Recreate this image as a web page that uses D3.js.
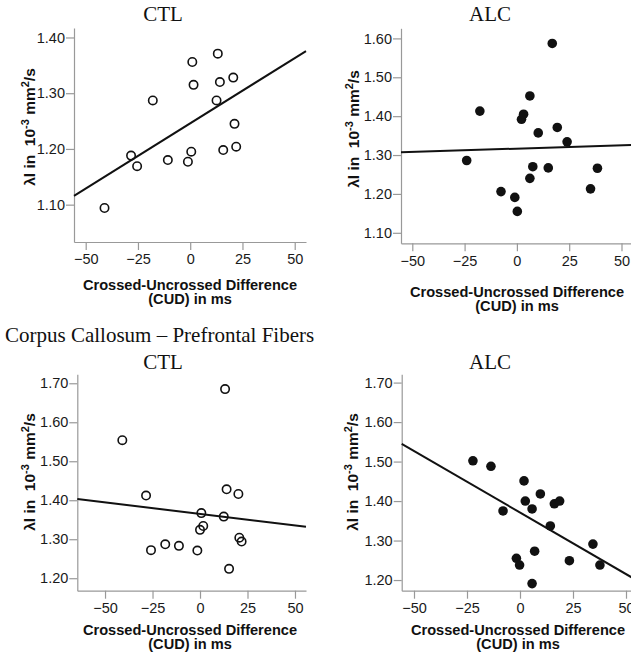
<!DOCTYPE html>
<head>
  <meta charset="utf-8">
  <style>
  body { margin: 0; background: #fff; }
  .axis path, .axis line { stroke: #999; stroke-width: 1.2px; }
  .axis text { font-family: "Liberation Sans", Arial, sans-serif; font-size: 14.5px; fill: #1a1a1a; }
  .ttl { font-family: "Liberation Serif", "Times New Roman", serif; font-size: 21px; fill: #111; }
  .lab { font-family: "Liberation Sans", Arial, sans-serif; font-size: 14.6px; font-weight: bold; fill: #111; white-space: pre; }
  .fit { stroke: #111; stroke-width: 2px; fill: none; }
  </style>
  <script src="https://cdn.jsdelivr.net/npm/d3@7"></script>
</head>
<body>
  <svg width="631" height="653"></svg>
  <script>

  // values
  var xTicks = [-50, -25, 0, 25, 50];

  var topCtlX = [-41.0, -28.3, -25.4, -17.9, -10.7, -1.1, 0.5, 1.0, 1.6, 12.6, 13.2, 14.2, 15.8, 20.6, 21.2, 22.0];
  var topCtlY = [1.094, 1.188, 1.169, 1.287, 1.180, 1.177, 1.195, 1.356, 1.315, 1.287, 1.371, 1.320, 1.198, 1.328, 1.245, 1.204];
  var topCtlFit = [1.246, 0.00234];   // intercept, slope
  var topCtlTicks = [1.10, 1.20, 1.30, 1.40];

  var topAlcX = [-24.0, -17.7, -7.6, -1.0, 0.2, 2.2, 3.2, 6.2, 6.2, 7.6, 10.2, 15.0, 16.9, 19.3, 24.0, 35.2, 38.5];
  var topAlcY = [1.286, 1.413, 1.206, 1.191, 1.155, 1.392, 1.405, 1.452, 1.240, 1.270, 1.357, 1.267, 1.587, 1.371, 1.334, 1.213, 1.266];
  var topAlcFit = [1.3166, 0.000173];
  var topAlcTicks = [1.10, 1.20, 1.30, 1.40, 1.50, 1.60];

  var pfCtlX = [-40.9, -28.4, -25.8, -18.3, -11.1, -1.4, 0.0, 0.7, 1.7, 12.5, 13.2, 14.0, 15.3, 20.2, 20.7, 21.9];
  var pfCtlY = [1.554, 1.412, 1.272, 1.287, 1.283, 1.271, 1.324, 1.367, 1.334, 1.358, 1.685, 1.428, 1.224, 1.416, 1.304, 1.294];
  var pfCtlFit = [1.365, -0.00059];
  var pfCtlTicks = [1.20, 1.30, 1.40, 1.50, 1.60, 1.70];

  var pfAlcX = [-22.2, -13.7, -8.0, -1.7, -0.2, 1.9, 2.5, 5.7, 5.7, 6.9, 9.6, 14.3, 16.2, 18.7, 23.3, 34.4, 37.7];
  var pfAlcY = [1.502, 1.488, 1.375, 1.255, 1.238, 1.451, 1.400, 1.380, 1.191, 1.273, 1.418, 1.337, 1.393, 1.400, 1.249, 1.291, 1.238];
  var pfAlcFit = [1.371, -0.00312];
  var pfAlcTicks = [1.20, 1.30, 1.40, 1.50, 1.60, 1.70];

  var svg = d3.select("svg");
  var fmt = d3.format(".2f");

  // section headings (the first one is cut by the top edge)
  svg.append("text").attr("class", "ttl").attr("x", -3).attr("y", -5).text("Corpus Callosum");
  svg.append("text").attr("class", "ttl").attr("x", 5).attr("y", 342).text("Corpus Callosum \u2013 Prefrontal Fibers");

  function panel(p) {
    var x = d3.scaleLinear().domain(p.xd).range([p.left, p.left + p.w]);
    var y = d3.scaleLinear().domain(p.yd).range([p.bottom, p.bottom - p.h]);
    var g = svg.append("g");

    g.append("g").attr("class", "axis")
      .attr("transform", "translate(0," + p.bottom + ")")
      .call(d3.axisBottom(x).tickValues(xTicks).tickSize(8).tickSizeOuter(0).tickPadding(4));

    g.append("g").attr("class", "axis")
      .attr("transform", "translate(" + p.left + ",0)")
      .call(d3.axisLeft(y).tickValues(p.ticks).tickFormat(fmt).tickSize(8).tickSizeOuter(0).tickPadding(1));

    g.append("text").attr("class", "ttl")
      .attr("x", p.tx).attr("y", p.ty).attr("text-anchor", "middle").text(p.title);

    // fit line across the whole x range
    var xd = x.domain();
    g.append("line").attr("class", "fit")
      .attr("x1", x(xd[0])).attr("y1", y(p.fit[0] + p.fit[1] * xd[0]))
      .attr("x2", x(xd[1])).attr("y2", y(p.fit[0] + p.fit[1] * xd[1]));

    g.selectAll("circle.pt")
      .data(d3.zip(p.xs, p.ys))
      .enter().append("circle")
      .attr("class", "pt")
      .attr("cx", function(d) { return x(d[0]); })
      .attr("cy", function(d) { return y(d[1]); })
      .attr("r", p.filled ? 4.8 : 4.2)
      .attr("fill", p.filled ? "#111" : "none")
      .attr("stroke", "#111")
      .attr("stroke-width", p.filled ? 0 : 1.6);

    var xl = g.append("text").attr("class", "lab").attr("text-anchor", "middle");
    xl.append("tspan").attr("x", p.xlx).attr("y", p.xly).text("Crossed-Uncrossed Difference");
    xl.append("tspan").attr("x", p.xlx).attr("dy", 13.5).text("(CUD) in ms");

    var yl = g.append("text").attr("class", "lab").attr("text-anchor", "middle")
      .attr("transform", "translate(" + p.ylx + "," + p.yly + ") rotate(-90)")
      .style("font-size", "15.5px");
    yl.append("tspan").text("\u03bbl in  10");
    yl.append("tspan").attr("baseline-shift", "super").style("font-size", "11px").text("-3");
    yl.append("tspan").text(" mm");
    yl.append("tspan").attr("baseline-shift", "super").style("font-size", "11px").text("2");
    yl.append("tspan").text("/s");
  }

  panel({ xs: topCtlX, ys: topCtlY, fit: topCtlFit, ticks: topCtlTicks, filled: false, title: "CTL",
          xd: [-55.6, 55.4], yd: [1.033, 1.417], left: 74, w: 232, bottom: 242, h: 214,
          tx: 163, ty: 21, xlx: 190, xly: 290, ylx: 35, yly: 127 });
  panel({ xs: topAlcX, ys: topAlcY, fit: topAlcFit, ticks: topAlcTicks, filled: true, title: "ALC",
          xd: [-55.4, 55.5], yd: [1.073, 1.626], left: 401, w: 232, bottom: 243.3, h: 215,
          tx: 490, ty: 21, xlx: 517, xly: 297, ylx: 359, yly: 129 });
  panel({ xs: pfCtlX, ys: pfCtlY, fit: pfCtlFit, ticks: pfCtlTicks, filled: false, title: "CTL",
          xd: [-64.6, 55.8], yd: [1.168, 1.723], left: 77.3, w: 228.7, bottom: 590.7, h: 216.4,
          tx: 163, ty: 369, xlx: 190, xly: 635, ylx: 35, yly: 472 });
  panel({ xs: pfAlcX, ys: pfAlcY, fit: pfAlcFit, ticks: pfAlcTicks, filled: true, title: "ALC",
          xd: [-55.8, 55.8], yd: [1.173, 1.721], left: 401.7, w: 236.6, bottom: 590.7, h: 216.4,
          tx: 490, ty: 369, xlx: 518, xly: 635, ylx: 358, yly: 472 });

  </script>
</body>
